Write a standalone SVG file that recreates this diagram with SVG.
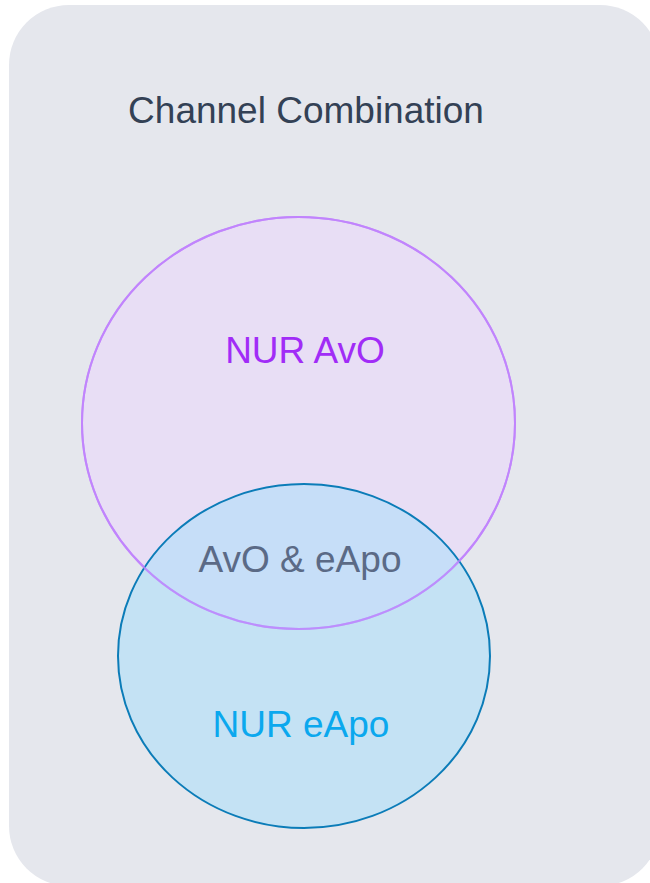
<svg xmlns="http://www.w3.org/2000/svg" width="650" height="883" viewBox="0 0 650 883">
<style>
text{font-family:"Liberation Sans",Arial,sans-serif;text-anchor:middle}
.t{font-size:37px;fill:#334155}
.lbl{font-size:37px}
</style>
<rect id="bg" x="9" y="5" width="651" height="881" rx="60" ry="60" fill="#e5e7ed"/>
<g id="title"><text class="t" x="306" y="123">Channel Combination</text></g>
<g id="avo"><ellipse cx="298.5" cy="423" rx="216.5" ry="206" fill="#e8def5" stroke="#c084fc" stroke-width="2"/></g>
<g id="eapo"><ellipse cx="304" cy="656" rx="186" ry="172" fill="#a3ddfc" fill-opacity="0.5" stroke="#0b7cb8" stroke-width="2"/></g>
<g id="avo-outline"><ellipse cx="298.5" cy="423" rx="216.5" ry="206" fill="none" stroke="#c084fc" stroke-width="2" stroke-opacity="0.8"/></g>
<g id="labels">
<text class="lbl" x="305" y="363" fill="#a12cf7">NUR AvO</text>
<text class="lbl" x="300" y="572" fill="#5b6a86">AvO &amp; eApo</text>
<text class="lbl" x="301" y="737" fill="#0ba8ee">NUR eApo</text>
</g>
</svg>
